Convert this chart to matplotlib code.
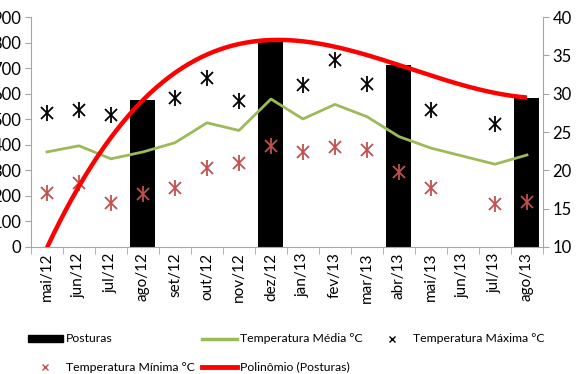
import numpy as np
import matplotlib
matplotlib.use("Agg")
import matplotlib.pyplot as plt
from matplotlib.lines import Line2D
from matplotlib.patches import Patch

plt.rcParams['font.family'] = ['Lato', 'DejaVu Sans']

meses = ["mai/12", "jun/12", "jul/12", "ago/12", "set/12", "out/12", "nov/12",
         "dez/12", "jan/13", "fev/13", "mar/13", "abr/13", "mai/13", "jun/13",
         "jul/13", "ago/13"]

# posturas (eixo esquerdo), so nos meses de coleta
posturas = [np.nan, np.nan, np.nan, 575, np.nan, np.nan, np.nan, 810,
            np.nan, np.nan, np.nan, 712, np.nan, np.nan, np.nan, 585]

# temperaturas (eixo direito)
t_media = [22.4, 23.2, 21.5, 22.4, 23.6, 26.2, 25.2, 29.3,
           26.7, 28.6, 27.0, 24.4, 22.9, np.nan, 20.8, 22.0]
t_maxima = [27.5, 27.9, 27.2, np.nan, 29.5, 32.1, 29.0, np.nan,
            31.1, 34.4, 31.3, np.nan, 27.9, np.nan, 26.0, np.nan]
t_minima = [17.1, 18.4, 15.8, 16.9, 17.7, 20.3, 21.0, 23.2,
            22.4, 23.0, 22.7, 19.8, 17.7, np.nan, 15.6, 15.9]

x = np.arange(len(meses))
post = np.array(posturas, dtype=float)
med = np.array(t_media, dtype=float)
tmax = np.array(t_maxima, dtype=float)
tmin = np.array(t_minima, dtype=float)

verde = "#9BBB59"
vermelho_claro = "#C0504D"
cinza = "#A6A6A6"

fig = plt.figure(figsize=(5.77, 3.74), dpi=100)
ax1 = fig.add_axes([0.0537, 0.3396, 0.8873, 0.6149])

ax1.bar(x, np.nan_to_num(post), width=0.78, color="black")
ax1.set_ylim(0, 900)
ax1.set_xlim(-0.5, len(meses) - 0.5)
ax1.set_yticks(np.arange(0, 901, 100))

ax2 = ax1.twinx()
ok = ~np.isnan(med)
ax2.plot(x[ok], med[ok], color=verde, lw=2)
for arr, cor in [(tmax, "black"), (tmin, vermelho_claro)]:
    ax2.plot(x, arr, ls="none", marker="x", ms=9, mew=1.3, color=cor)
    ax2.plot(x, arr, ls="none", marker="|", ms=12, mew=1.3, color=cor)
ax2.set_ylim(10, 40)
ax2.set_yticks(np.arange(10, 41, 5))

# linha de tendencia polinomial (ordem 3) das posturas
ax3 = ax1.twinx()
idx = ~np.isnan(post)
coef = np.polyfit(x[idx] + 1, post[idx], 3)
xs = np.linspace(0, len(meses) - 1, 300)
ax3.plot(xs, np.polyval(coef, xs + 1), color="red", lw=3.2, solid_capstyle="butt")
ax3.set_ylim(0, 900)
ax3.set_xlim(-0.5, len(meses) - 0.5)
ax3.axis("off")

for ax in (ax1, ax2):
    ax.spines["top"].set_visible(False)
    for s in ("left", "right", "bottom"):
        ax.spines[s].set_color(cinza)
ax1.spines["right"].set_visible(False)
ax2.spines["left"].set_visible(False)
ax2.spines["bottom"].set_visible(False)

ax1.set_xticks(x)
ax1.set_xticklabels(meses, rotation=90, fontsize=11)
ax1.set_xticks(np.arange(-0.5, len(meses), 1), minor=True)
ax1.tick_params(axis="x", which="major", length=0, pad=4)
ax1.tick_params(axis="x", which="minor", length=5, color=cinza)
ax1.tick_params(axis="y", length=4, color=cinza, labelsize=12, pad=3)
ax2.tick_params(axis="y", length=4, color=cinza, labelsize=12, pad=3)

# legenda em duas linhas
itens = [
    (Patch(color="black"), "Posturas", 0.0485, 0.0936),
    (Line2D([], [], color=verde, lw=2.5), "Temperatura Média °C", 0.350, 0.0936),
    (Line2D([], [], ls="none", marker="x", ms=4, mew=1, color="black"),
     "Temperatura Máxima °C", 0.650, 0.0936),
    (Line2D([], [], ls="none", marker="x", ms=4, mew=1, color=vermelho_claro),
     "Temperatura Mínima °C", 0.0485, 0.0187),
    (Line2D([], [], color="red", lw=3.5), "Polinômio (Posturas)", 0.350, 0.0187),
]
for h, rot, lx, ly in itens:
    fig.legend([h], [rot], loc="center left", bbox_to_anchor=(lx, ly),
               frameon=False, fontsize=8.8, handlelength=2.85, handletextpad=0.25,
               handleheight=0.5, borderpad=0, borderaxespad=0)

fig.savefig("out.png", dpi=100)
